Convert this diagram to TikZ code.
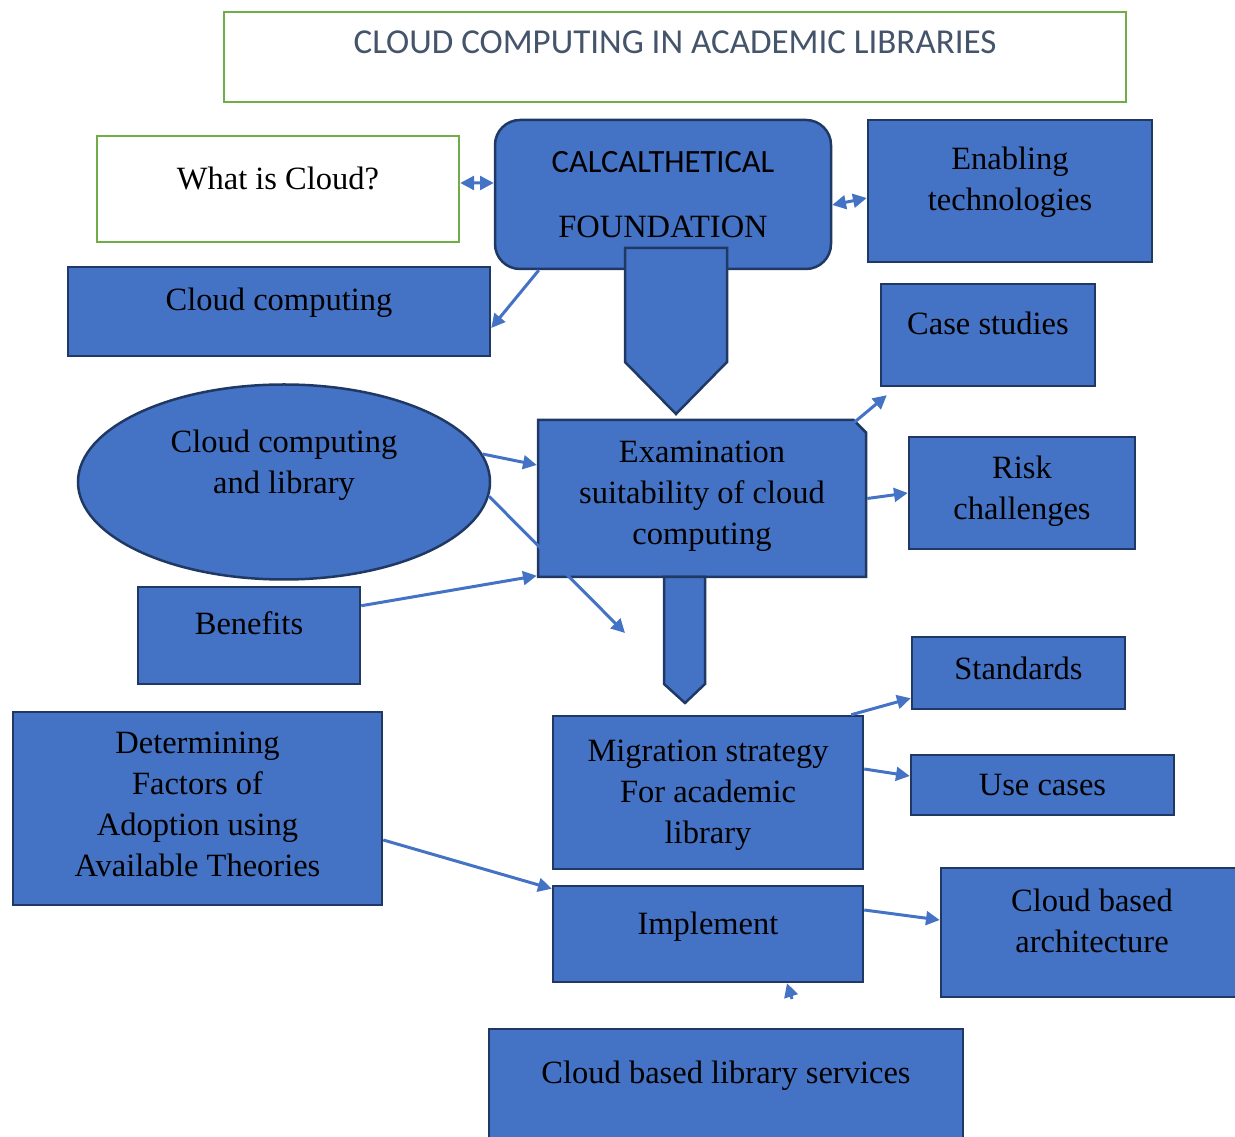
\documentclass[tikz,border=0pt]{standalone}
\usepackage{fontspec}
\setmainfont{Liberation Serif}
\newfontfamily\calfont{Carlito}
\usetikzlibrary{arrows.meta,positioning,calc,shapes.geometric,shapes.misc}
\definecolor{boxblue}{HTML}{4472C4}
\definecolor{boxedge}{HTML}{203864}
\definecolor{leafgreen}{HTML}{70AD47}
\definecolor{slate}{HTML}{44546A}

\begin{document}
\begin{tikzpicture}[x=0.4pt, y=-0.4pt,
  >={Triangle[length=5.5pt,width=5.5pt]},
  box/.style={draw=boxedge, fill=boxblue, line width=1pt, align=center, inner sep=2pt,
    font=\fontsize{13}{16.4}\selectfont},
  boxsize/.style 2 args={minimum width=#1*0.4pt, minimum height=#2*0.4pt},
  lift/.style={text depth=#1},
  link/.style={draw=boxblue, line width=1.2pt, ->},
  blockarrow/.style={draw=boxedge, fill=boxblue, line width=1pt}]
  \useasboundingbox (0,0) rectangle (1235,1137);

  \node[box, fill=white, draw=leafgreen, line width=0.8pt, boxsize={902}{90}, lift=12pt,
    font=\calfont\fontsize{14}{16}\selectfont, text=slate] (title) at (675,57)
    {CLOUD COMPUTING IN ACADEMIC LIBRARIES};
  \node[box, fill=white, draw=leafgreen, boxsize={362}{106}, lift=8.9pt] (what) at (278,189) {What is Cloud?};
  \node[box, rounded corners=10pt, boxsize={336}{149}] (found) at (663,194.5)
    {{\calfont CALCALTHETICAL}\\[9.6pt]FOUNDATION};
  \node[box, ellipse, inner sep=0pt, boxsize={412}{195}, lift=16.5pt] (ell) at (284,482)
    {Cloud computing\\and library};
  \node[box, chamfered rectangle, chamfered rectangle corners=north east,
    chamfered rectangle xsep=2.5pt, chamfered rectangle ysep=2.5pt,
    boxsize={328}{157}, lift=4.9pt] (exam) at (702,498.5)
    {Examination\\suitability of cloud\\computing};
  \foreach \nm/\cx/\cy/\bw/\bh/\bd/\txt in {
      enab/1010/191/284/142/9.7pt/{Enabling\\technologies},
      ccomp/279/311.5/422/89/10.1pt/{Cloud computing},
      case/988/335/214/102/9.7pt/{Case studies},
      risk/1022/493/226/112/4.1pt/{Risk\\challenges},
      bene/249/635.5/222/97/10.1pt/{Benefits},
      stand/1018.5/673/213/72/4.1pt/{Standards},
      migr/708/792.5/310/153/0.9pt/{Migration strategy\\For academic\\library},
      usec/1042.5/785/263/60/-1.2pt/{Use cases},
      deter/197.5/808.5/369/193/3.3pt/{Determining\\Factors of\\Adoption using\\Available Theories},
      impl/708/934/310/96/8.9pt/{Implement},
      arch/1092/932.5/302/129/9.3pt/{Cloud based\\architecture},
      serv/726/1085/474/112/10.5pt/{Cloud based library services}}
    \node[box, boxsize={\bw}{\bh}, lift=\bd] (\nm) at (\cx,\cy) {\txt};

  \draw[blockarrow] (625,248) -- (727,248) -- (727,362) -- (676,414) -- (625,362) -- cycle;
  \draw[blockarrow] (664,577) -- (705,577) -- (705,684) -- (685,703) -- (664,684) -- cycle;

  \coordinate (drop) at (625,633);
  \coordinate (stub) at (792,999);
  \draw[link, <->] ([yshift=4.6pt]found.west) -- ([yshift=2.4pt]what.east);
  \draw[link, <->] ([yshift=-4.2pt]found.east) -- ([yshift=-2.8pt]enab.west);
  \draw[link] ([xshift=18pt]found.south west) -- ([yshift=-6.6pt]ccomp.east);
  \draw[link] (ell.8) -- ([yshift=13.4pt]exam.west);
  \draw[link] (ell.-4) -- (drop);
  \draw[link] ([yshift=-8pt]bene.north east) -- ([yshift=1pt]exam.south west);
  \draw[link] ([xshift=-4pt]exam.north east) -- ([xshift=2.8pt,yshift=-3.2pt]case.south west);
  \draw[link] (exam.east) -- (risk.west);
  \draw[link] ([xshift=-5.2pt]migr.north east) -- ([yshift=4.8pt]stand.south west);
  \draw[link] ([yshift=9.4pt]migr.east) -- ([yshift=3.6pt]usec.west);
  \draw[link] ([yshift=-12.6pt]deter.east) -- ([yshift=-1.6pt]impl.north west);
  \draw[link] ([yshift=9.6pt]impl.east) -- ([yshift=5pt]arch.west);
  \draw[link] (stub) -- ([xshift=31.6pt]impl.south);
\end{tikzpicture}
\end{document}
